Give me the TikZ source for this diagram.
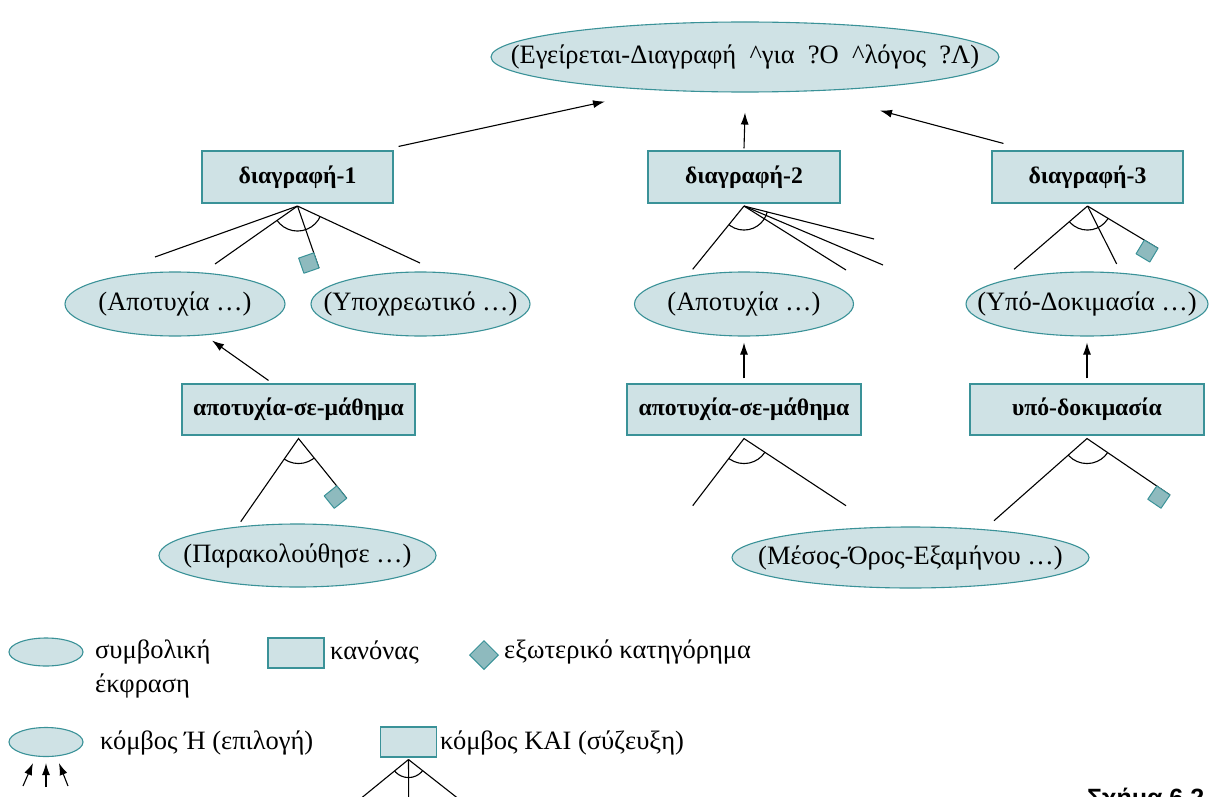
\documentclass[tikz,border=0pt]{standalone}
\usepackage{fontspec}
\setmainfont{Liberation Serif}
\newfontfamily\captionfont{Liberation Sans}
\usetikzlibrary{shapes.geometric, arrows.meta, calc}

\definecolor{nodefill}{RGB}{207,226,229}
\definecolor{nodeline}{RGB}{58,146,152}
\definecolor{predfill}{RGB}{142,186,190}

\tikzset{
  sym/.style={ellipse, draw=nodeline, fill=nodefill, line width=1.1pt, inner sep=0pt,
    font=\fontsize{26.5}{30}\selectfont},
  rulebox/.style={rectangle, draw=nodeline, fill=nodefill, line width=1.1pt, inner sep=0pt,
    font=\bfseries\fontsize{23.7}{28}\selectfont},
  link/.style={line width=1.1pt, black},
  uparrow/.style={link, -{Latex[length=12pt,width=8pt]}},
  pred/.style={draw=nodeline, fill=predfill, line width=1pt, line join=round},
  legendtext/.style={anchor=west, inner sep=0pt, font=\fontsize{26.5}{30}\selectfont},
}

% text set in a zero-width box, so that an oval keeps its given size
\newcommand\ctext[1]{\makebox[0pt]{#1}}
% external-predicate square beside the free end #2 of a branch that leaves #1
\newcommand\extpred[2]{%
  \path[pred] (#2) -- ($(#2)!16pt!(#1)$) -- ($(#2)!22.63pt!45:(#1)$)
    -- ($(#2)!16pt!90:(#1)$) -- cycle;}
% AND arc of radius #4 round apex #1, between the branches to #2 and #3
\newcommand\andarc[4]{%
  \begin{scope}
    \clip (#1) -- ($(#1)!4!(#2)$) -- ($(#1)!4!(#3)$) -- cycle;
    \draw[link] (#1) circle[radius=#4];
  \end{scope}}

\begin{document}
\begin{tikzpicture}[x=1pt, y=-1pt]
\clip (0,0) rectangle (1209,797);
\fill[white] (0,0) rectangle (1209,797);

% ---------- goal ----------
\node[sym, minimum width=508pt, minimum height=70pt] (goal) at (745,57)
  {\ctext{(Εγείρεται-Διαγραφή \ \textasciicircum για \ ?Ο \ \textasciicircum λόγος \ ?Λ)}};

% ---------- rules, first level ----------
\node[rulebox, minimum width=191pt, minimum height=52pt] (d1) at (297.5,177) {διαγραφή-1};
\node[rulebox, minimum width=192pt, minimum height=52pt] (d2) at (744,177) {διαγραφή-2};
\node[rulebox, minimum width=191pt, minimum height=52pt] (d3) at (1087.5,177) {διαγραφή-3};

% ---------- symbolic expressions, second level ----------
\node[sym, minimum width=220pt, minimum height=64pt] (e1) at (175,304) {\ctext{(Αποτυχία …)}};
\node[sym, minimum width=219pt, minimum height=64pt] (e2) at (420.5,304) {\ctext{(Υποχρεωτικό …)}};
\node[sym, minimum width=219pt, minimum height=64pt] (e3) at (744,304) {\ctext{(Αποτυχία …)}};
\node[sym, minimum width=242pt, minimum height=64pt] (e4) at (1087,304) {\ctext{(Υπό-Δοκιμασία …)}};

% ---------- rules, second level ----------
\node[rulebox, minimum width=233pt, minimum height=51pt] (a1) at (298.5,409.5) {αποτυχία-σε-μάθημα};
\node[rulebox, minimum width=234pt, minimum height=51pt] (a2) at (744,409.5) {αποτυχία-σε-μάθημα};
\node[rulebox, minimum width=234pt, minimum height=51pt] (u) at (1087,409.5) {υπό-δοκιμασία};

% ---------- symbolic expressions, bottom level ----------
\node[sym, minimum width=277pt, minimum height=63pt] (e5) at (297.5,555.5) {\ctext{(Παρακολούθησε …)}};
\node[sym, minimum width=357pt, minimum height=61pt] (e6) at (910.5,557.5) {\ctext{(Μέσος-Όρος-Εξαμήνου …)}};

% ---------- arrows up to the goal ----------
\draw[uparrow] ([xshift=5pt,yshift=4pt]d1.north east) -- ([xshift=-140pt,yshift=-9pt]goal.south);
\draw[uparrow] ([yshift=2pt]d2.north) -- ([yshift=-20pt]goal.south);
\draw[uparrow] ([xshift=12pt,yshift=7pt]d3.north west) -- ([xshift=135pt,yshift=-18pt]goal.south);

% ---------- arrows from the lower rules ----------
\draw[uparrow] ([xshift=-30pt,yshift=3pt]a1.north) -- ([xshift=37pt,yshift=-4pt]e1.south);
\draw[uparrow] ([yshift=5pt]a2.north) -- ([yshift=-6pt]e3.south);
\draw[uparrow] ([yshift=5pt]u.north) -- ([yshift=-6pt]e4.south);

% ---------- AND branches of diagrafi-1 ----------
\coordinate (d1a) at ([yshift=-2.5pt]d1.south);
\coordinate (d1b1) at (155,257);
\coordinate (d1b2) at (215,264);
\coordinate (d1b3) at (319,268);
\coordinate (d1b4) at (420,263);
\foreach \e in {d1b1,d1b2,d1b3,d1b4} \draw[link] (d1a) -- (\e);
\andarc{d1a}{d1b2}{d1b4}{25pt}
\extpred{d1a}{d1b3}

% ---------- AND branches of diagrafi-2 ----------
\coordinate (d2a) at ([yshift=-2.5pt]d2.south);
\coordinate (d2b1) at (692.7,269.3);
\coordinate (d2b2) at (846,270);
\coordinate (d2b3) at (883,265);
\coordinate (d2b4) at (874,239);
\foreach \e in {d2b1,d2b2,d2b3,d2b4} \draw[link] (d2a) -- (\e);
\andarc{d2a}{d2b1}{d2b4}{24pt}

% ---------- AND branches of diagrafi-3 ----------
\coordinate (d3a) at ([yshift=-2.5pt]d3.south);
\coordinate (d3b1) at (1014,269.3);
\coordinate (d3b2) at (1116.7,264);
\coordinate (d3b3) at (1158,248.3);
\foreach \e in {d3b1,d3b2,d3b3} \draw[link] (d3a) -- (\e);
\andarc{d3a}{d3b1}{d3b3}{24pt}
\extpred{d3a}{d3b3}

% ---------- AND branches of the lower rules ----------
\coordinate (a1a) at ([yshift=-3pt]a1.south);
\coordinate (a1b1) at (240.7,521.7);
\coordinate (a1b2) at (346.7,498.3);
\draw[link] (a1b1) -- (a1a) -- (a1b2);
\andarc{a1a}{a1b1}{a1b2}{25pt}
\extpred{a1a}{a1b2}

\coordinate (a2a) at ([yshift=-3pt]a2.south);
\coordinate (a2b1) at (692.7,505.7);
\coordinate (a2b2) at (846,505.7);
\draw[link] (a2b1) -- (a2a) -- (a2b2);
\andarc{a2a}{a2b1}{a2b2}{25pt}

\coordinate (ua) at ([yshift=-3pt]u.south);
\coordinate (ub1) at (994,520.7);
\coordinate (ub2) at (1170,495);
\draw[link] (ub1) -- (ua) -- (ub2);
\andarc{ua}{ub1}{ub2}{25pt}
\extpred{ua}{ub2}

% ---------- legend ----------
\node[sym, minimum width=74pt, minimum height=28pt] (lgsym) at (46,652) {};
\node[legendtext] (lgsymt1) at (95,652) {συμβολική};
\node[legendtext] (lgsymt2) at (95,686) {έκφραση};
\node[rulebox, minimum width=56pt, minimum height=30pt] (lgrule) at (296,653) {};
\node[legendtext] (lgrulet) at (330,652) {κανόνας};
\node[diamond, draw=nodeline, fill=predfill, line width=1pt, inner sep=0pt,
      minimum width=29pt, minimum height=29pt] (lgpred) at (484,655) {};
\node[legendtext] (lgpredt) at (504,652) {εξωτερικό κατηγόρημα};

\node[sym, minimum width=74pt, minimum height=29pt] (lgor) at (46,742) {};
\node[legendtext] (lgort) at (100,743) {κόμβος Ή (επιλογή)};
\coordinate (lgor1) at (23,786);
\coordinate (lgor2) at (46,787);
\coordinate (lgor3) at (68,786);
\draw[uparrow] (lgor1) -- ([xshift=-13pt,yshift=-6pt]lgor.south);
\draw[uparrow] (lgor2) -- ([yshift=-6pt]lgor.south);
\draw[uparrow] (lgor3) -- ([xshift=13pt,yshift=-6pt]lgor.south);

\node[rulebox, minimum width=56pt, minimum height=30pt] (lgand) at (408.5,742) {};
\node[legendtext] (lgandt) at (440,743) {κόμβος ΚΑΙ (σύζευξη)};
\coordinate (lganda) at ([yshift=-2pt]lgand.south);
\coordinate (lgandb1) at (352.8,805);
\coordinate (lgandb2) at (408.7,805);
\coordinate (lgandb3) at (466.4,805);
\foreach \e in {lgandb1,lgandb2,lgandb3} \draw[link] (lganda) -- (\e);
\andarc{lganda}{lgandb1}{lgandb3}{18pt}

% ---------- figure caption ----------
\node[anchor=base west, inner sep=0pt, font=\captionfont\bfseries\fontsize{25}{30}\selectfont]
  (caption) at (1087,806) {Σχήμα 6.2};
\end{tikzpicture}
\end{document}
